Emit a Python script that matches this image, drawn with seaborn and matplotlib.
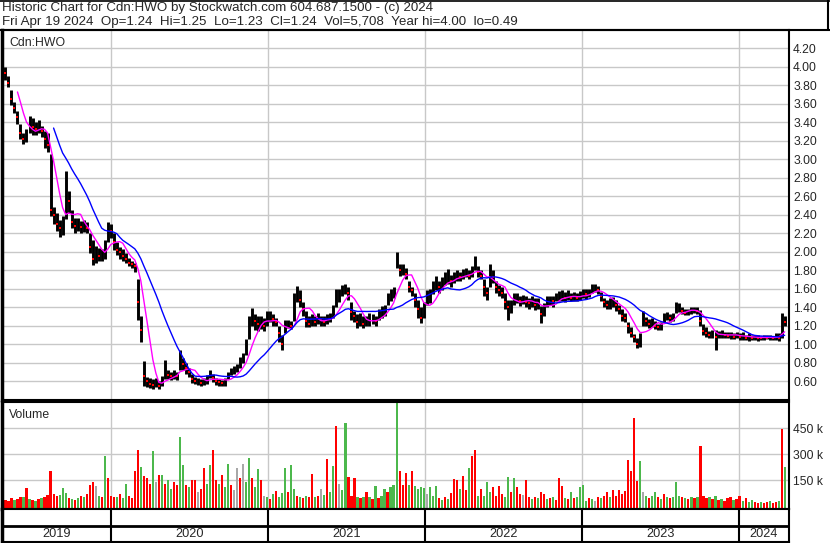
import numpy as np
import pandas as pd
import matplotlib
matplotlib.use('Agg')
import matplotlib.pyplot as plt
import matplotlib.lines as mlines
import seaborn as sns

sns.set_style("white")
plt.rcParams['font.family'] = ['Liberation Sans', 'DejaVu Sans']

# weekly bars, Cdn:HWO, Apr 2019 - Apr 2024
first_week = '2019-04-26'

close = [
    3.95, 3.93, 3.82, 3.65, 3.55, 3.45, 3.28, 3.22, 3.25, 3.38,
    3.35, 3.32, 3.36, 3.30, 3.22, 3.15, 2.45, 2.40, 2.30, 2.25,
    2.30, 2.70, 2.55, 2.32, 2.28, 2.30, 2.26, 2.28, 2.25, 2.05,
    1.92, 2.00, 1.95, 1.98, 2.05, 2.25, 2.22, 2.10, 2.02, 2.00,
    1.95, 1.92, 1.88, 1.86, 1.84, 1.45, 1.15, 0.65, 0.60, 0.57,
    0.56, 0.58, 0.55, 0.60, 0.72, 0.66, 0.65, 0.67, 0.65, 0.85,
    0.78, 0.74, 0.70, 0.62, 0.60, 0.60, 0.58, 0.60, 0.62, 0.68,
    0.63, 0.60, 0.59, 0.58, 0.60, 0.66, 0.70, 0.72, 0.74, 0.80,
    0.86, 0.98, 1.22, 1.30, 1.25, 1.22, 1.24, 1.20, 1.28, 1.30,
    1.27, 1.24, 1.12, 1.00, 1.20, 1.22, 1.20, 1.45, 1.55, 1.48,
    1.38, 1.25, 1.22, 1.26, 1.24, 1.28, 1.26, 1.24, 1.28, 1.30,
    1.34, 1.50, 1.55, 1.58, 1.60, 1.55, 1.35, 1.30, 1.24, 1.26,
    1.22, 1.24, 1.26, 1.28, 1.25, 1.32, 1.35, 1.38, 1.48, 1.55,
    1.58, 1.90, 1.80, 1.82, 1.76, 1.62, 1.58, 1.48, 1.38, 1.28,
    1.35, 1.50, 1.52, 1.60, 1.65, 1.62, 1.66, 1.70, 1.72, 1.68,
    1.72, 1.75, 1.72, 1.76, 1.78, 1.74, 1.78, 1.88, 1.78, 1.74,
    1.62, 1.55, 1.78, 1.72, 1.62, 1.58, 1.55, 1.45, 1.40, 1.42,
    1.48, 1.50, 1.46, 1.48, 1.45, 1.44, 1.46, 1.42, 1.44, 1.32,
    1.38, 1.45, 1.48, 1.46, 1.50, 1.52, 1.52, 1.50, 1.53, 1.50,
    1.52, 1.50, 1.52, 1.55, 1.54, 1.56, 1.60, 1.62, 1.58, 1.52,
    1.45, 1.42, 1.45, 1.48, 1.42, 1.38, 1.30, 1.28, 1.20, 1.12,
    1.08, 1.00, 1.06, 1.30, 1.25, 1.22, 1.24, 1.20, 1.18, 1.20,
    1.28, 1.30, 1.28, 1.30, 1.38, 1.40, 1.36, 1.34, 1.35, 1.36,
    1.38, 1.36, 1.25, 1.14, 1.12, 1.10, 1.10, 1.08, 1.10, 1.12,
    1.10, 1.09, 1.10, 1.08, 1.10, 1.08, 1.08, 1.07, 1.08, 1.06,
    1.08, 1.07, 1.06, 1.08, 1.07, 1.08, 1.06, 1.08, 1.07, 1.26,
    1.24,
]

high = [
    4.02, 4.00, 3.90, 3.75, 3.62, 3.52, 3.38, 3.28, 3.32, 3.46,
    3.44, 3.40, 3.42, 3.36, 3.30, 3.28, 3.05, 2.48, 2.42, 2.34,
    2.38, 2.87, 2.65, 2.45, 2.36, 2.36, 2.33, 2.34, 2.32, 2.20,
    2.12, 2.06, 2.04, 2.03, 2.12, 2.32, 2.30, 2.20, 2.10, 2.05,
    2.03, 1.98, 1.93, 1.90, 1.88, 1.70, 1.30, 0.82, 0.64, 0.63,
    0.62, 0.63, 0.60, 0.65, 0.83, 0.72, 0.70, 0.72, 0.70, 0.94,
    0.85, 0.80, 0.74, 0.68, 0.64, 0.63, 0.62, 0.63, 0.66, 0.72,
    0.68, 0.63, 0.62, 0.61, 0.63, 0.70, 0.74, 0.76, 0.78, 0.86,
    0.90, 1.05, 1.30, 1.39, 1.32, 1.30, 1.30, 1.28, 1.36, 1.36,
    1.32, 1.28, 1.20, 1.10, 1.26, 1.26, 1.25, 1.55, 1.63, 1.58,
    1.45, 1.36, 1.30, 1.32, 1.30, 1.34, 1.30, 1.30, 1.32, 1.34,
    1.42, 1.59, 1.60, 1.64, 1.65, 1.62, 1.45, 1.36, 1.32, 1.34,
    1.30, 1.30, 1.34, 1.32, 1.30, 1.38, 1.41, 1.42, 1.55, 1.59,
    1.62, 2.00, 1.86, 1.86, 1.82, 1.68, 1.62, 1.55, 1.48, 1.40,
    1.45, 1.58, 1.59, 1.68, 1.73, 1.68, 1.72, 1.78, 1.81, 1.75,
    1.78, 1.80, 1.78, 1.81, 1.82, 1.80, 1.84, 1.95, 1.84, 1.80,
    1.70, 1.62, 1.86, 1.80, 1.68, 1.64, 1.62, 1.55, 1.48, 1.48,
    1.55, 1.55, 1.52, 1.53, 1.52, 1.50, 1.52, 1.50, 1.50, 1.41,
    1.44, 1.52, 1.52, 1.52, 1.55, 1.57, 1.58, 1.56, 1.58, 1.55,
    1.56, 1.55, 1.57, 1.60, 1.60, 1.60, 1.65, 1.65, 1.63, 1.56,
    1.50, 1.48, 1.50, 1.51, 1.48, 1.42, 1.38, 1.34, 1.24, 1.18,
    1.11, 1.06, 1.12, 1.36, 1.29, 1.27, 1.28, 1.25, 1.22, 1.24,
    1.33, 1.35, 1.32, 1.34, 1.45, 1.44, 1.40, 1.38, 1.38, 1.40,
    1.40, 1.40, 1.37, 1.22, 1.18, 1.14, 1.15, 1.15, 1.14, 1.15,
    1.13, 1.13, 1.13, 1.12, 1.13, 1.12, 1.13, 1.10, 1.12, 1.10,
    1.10, 1.10, 1.09, 1.10, 1.10, 1.10, 1.09, 1.12, 1.12, 1.33,
    1.30,
]

low = [
    3.88, 3.85, 3.78, 3.58, 3.50, 3.38, 3.22, 3.16, 3.18, 3.28,
    3.26, 3.26, 3.28, 3.24, 3.12, 3.08, 2.38, 2.30, 2.22, 2.16,
    2.18, 2.35, 2.42, 2.25, 2.20, 2.22, 2.20, 2.21, 2.20, 1.98,
    1.85, 1.88, 1.90, 1.90, 1.92, 2.10, 2.15, 2.02, 1.96, 1.92,
    1.90, 1.88, 1.84, 1.82, 1.78, 1.26, 1.02, 0.55, 0.53, 0.52,
    0.51, 0.53, 0.51, 0.55, 0.62, 0.62, 0.61, 0.62, 0.61, 0.72,
    0.72, 0.68, 0.64, 0.58, 0.57, 0.56, 0.55, 0.56, 0.57, 0.63,
    0.59, 0.56, 0.55, 0.55, 0.55, 0.62, 0.66, 0.68, 0.70, 0.74,
    0.80, 0.88, 1.05, 1.20, 1.15, 1.14, 1.16, 1.14, 1.20, 1.24,
    1.20, 1.20, 1.02, 0.93, 1.12, 1.17, 1.16, 1.25, 1.45, 1.40,
    1.30, 1.18, 1.18, 1.20, 1.19, 1.22, 1.20, 1.19, 1.22, 1.24,
    1.28, 1.40, 1.45, 1.52, 1.54, 1.48, 1.26, 1.24, 1.17, 1.20,
    1.17, 1.19, 1.20, 1.22, 1.20, 1.26, 1.28, 1.30, 1.42, 1.47,
    1.50, 1.82, 1.74, 1.75, 1.70, 1.56, 1.52, 1.40, 1.28, 1.23,
    1.28, 1.42, 1.44, 1.54, 1.58, 1.55, 1.58, 1.64, 1.65, 1.62,
    1.66, 1.68, 1.68, 1.70, 1.72, 1.70, 1.72, 1.80, 1.72, 1.70,
    1.52, 1.48, 1.62, 1.66, 1.55, 1.52, 1.50, 1.38, 1.26, 1.34,
    1.42, 1.44, 1.41, 1.43, 1.40, 1.38, 1.40, 1.37, 1.38, 1.23,
    1.30, 1.40, 1.42, 1.40, 1.46, 1.47, 1.47, 1.45, 1.48, 1.46,
    1.47, 1.46, 1.48, 1.50, 1.49, 1.51, 1.55, 1.56, 1.54, 1.46,
    1.40, 1.38, 1.38, 1.40, 1.36, 1.32, 1.25, 1.24, 1.12, 1.08,
    1.02, 0.96, 0.97, 1.20, 1.20, 1.17, 1.18, 1.16, 1.15, 1.15,
    1.24, 1.26, 1.24, 1.25, 1.34, 1.35, 1.32, 1.31, 1.31, 1.32,
    1.34, 1.32, 1.19, 1.10, 1.08, 1.06, 1.06, 0.94, 1.06, 1.07,
    1.06, 1.06, 1.05, 1.05, 1.06, 1.04, 1.04, 1.04, 1.03, 1.04,
    1.04, 1.03, 1.04, 1.04, 1.05, 1.04, 1.04, 1.04, 1.03, 1.06,
    1.20,
]

# biggest daily volume in each week, thousands of shares
volume_k = [
    40, 35, 30, 45, 35, 40, 55, 50, 105, 40,
    35, 30, 40, 45, 50, 65, 200, 70, 60, 65,
    105, 75, 45, 40, 35, 45, 60, 55, 70, 120,
    140, 115, 60, 50, 290, 160, 60, 55, 50, 70,
    45, 125, 60, 45, 205, 325, 225, 175, 160, 130,
    315, 140, 180, 180, 130, 150, 100, 140, 120, 400,
    235, 120, 110, 150, 150, 80, 100, 220, 130, 235,
    325, 150, 130, 180, 110, 240, 120, 90, 220, 160,
    240, 140, 275, 160, 110, 215, 150, 60, 55, 40,
    70, 85, 55, 75, 220, 80, 235, 100, 60, 50,
    45, 60, 50, 185, 50, 60, 100, 65, 270, 80,
    230, 460, 130, 90, 480, 165, 60, 160, 50, 45,
    55, 80, 50, 40, 115, 45, 60, 100, 80, 110,
    120, 600, 200, 120, 190, 120, 200, 115, 100, 110,
    105, 70, 110, 60, 115, 45, 35, 55, 40, 75,
    155, 150, 100, 175, 90, 220, 290, 325, 60, 100,
    60, 140, 80, 110, 60, 115, 70, 50, 165, 80,
    160, 110, 70, 65, 150, 55, 40, 50, 45, 80,
    70, 40, 45, 50, 35, 160, 115, 45, 40, 80,
    45, 50, 110, 120, 30, 45, 40, 30, 50, 45,
    60, 80, 50, 95, 60, 90, 70, 85, 265, 200,
    505, 145, 260, 80, 60, 45, 60, 80, 55, 40,
    70, 50, 45, 55, 140, 60, 50, 45, 40, 55,
    45, 50, 345, 60, 45, 55, 40, 60, 35, 40,
    30, 45, 55, 35, 40, 60, 30, 45, 25, 35,
    25, 20, 25, 20, 25, 30, 20, 25, 30, 445,
    225,
]

# g = up, r = down, n = unchanged (one row of ten weeks per string)
volume_dir_rows = [
    "grrrgrrgrg", "rgrgrrrrrg", "ggrgrgrgrr", "rngrgrrrgr",
    "ggrrrrgrrr", "gnrgrggrrg", "grgrrnrrgg", "rrgrggrnnr",
    "nggrggrngr", "grgggrggrg", "rgrrgrngrg", "grnggrrrgr",
    "grgrgrggrg", "ggrrrgrggg", "gngggrgrgr", "rrgrrgrrgr",
    "gggrrrrggr", "grrnrrgrgr", "rgrgrrrgrg", "rggggrgnrg",
    "rrgrrrrrrr", "rrgngrggrg", "rgrgggrgrg", "rgrrrgrgrg",
    "rrrgrrgrgg", "rrgrrgrrgr", "g",
]
volume_dir = list("".join(volume_dir_rows))

years = ['2019', '2020', '2021', '2022', '2023', '2024']
price_ticks = [0.60, 0.80, 1.00, 1.20, 1.40, 1.60, 1.80, 2.00, 2.20, 2.40,
               2.60, 2.80, 3.00, 3.20, 3.40, 3.60, 3.80, 4.00, 4.20]
volume_ticks = [150, 300, 450]

title_1 = "Historic Chart for Cdn:HWO by Stockwatch.com 604.687.1500 - (c) 2024"
title_2 = ("Fri Apr 19 2024  Op=1.24  Hi=1.25  Lo=1.23  Cl=1.24  "
           "Vol=5,708  Year hi=4.00  lo=0.49")

# ---------------------------------------------------------------
df = pd.DataFrame({'close': close, 'high': high, 'low': low,
                   'vol': volume_k, 'dir': volume_dir})
df['date'] = pd.date_range(first_week, periods=len(df), freq='7D') - pd.Timedelta(days=2)
df['ma_fast'] = df['close'].rolling(6).mean()
df['ma_slow'] = df['close'].rolling(18).mean()
down = df['close'] < df['close'].shift(1)

W, H = 830, 543
def box(x0, y0, x1, y1):
    return [x0 / W, 1 - y1 / H, (x1 - x0) / W, (y1 - y0) / H]

fig = plt.figure(figsize=(W / 100, H / 100), dpi=100)
ax_p = fig.add_axes(box(2, 30, 789, 399.5))
ax_v = fig.add_axes(box(2, 401.5, 789, 509))
ax_y = fig.add_axes(box(2, 509, 789, 542))

xlim = (pd.Timestamp('2019-04-23'), pd.Timestamp('2024-04-27'))
year_starts = [pd.Timestamp(f'{y}-01-01') for y in years[1:]]
grid_c = '#c8c8c8'

for ax in (ax_p, ax_v, ax_y):
    ax.set_xlim(*xlim)
    ax.set_xticks(year_starts)
    ax.set_xticklabels([])
    ax.tick_params(axis='x', length=0)
    for s in ax.spines.values():
        s.set_color('black')
        s.set_linewidth(1.5)
    ax.spines['left'].set_linewidth(2.5)

# price panel
ax_p.vlines(df['date'], df['low'], df['high'], color='black', lw=2.1, zorder=2)
ax_p.scatter(df.loc[down, 'date'], df.loc[down, 'close'], marker='s', s=3,
             color='red', linewidths=0, zorder=3)
sns.lineplot(data=df, x='date', y='ma_fast', ax=ax_p, color='#ff00ff', lw=1, zorder=4)
sns.lineplot(data=df, x='date', y='ma_slow', ax=ax_p, color='#0000ff', lw=1, zorder=4)
ax_p.set_xlim(*xlim)
ax_p.set_ylim(0.400, 4.395)
ax_p.set_yticks(price_ticks)
ax_p.set_yticklabels([f'{t:.2f}' for t in price_ticks])
ax_p.yaxis.tick_right()
ax_p.tick_params(axis='y', length=0, pad=3, labelsize=8.7)
ax_p.grid(True, color=grid_c, lw=1)
ax_p.set_axisbelow(True)
ax_p.set_xlabel('')
ax_p.set_ylabel('')
ax_p.text(7 / 787, 1 - 16 / 369.5, 'Cdn:HWO', transform=ax_p.transAxes,
          fontsize=8.8, va='baseline', ha='left')

# volume panel
vfloor = -17
colmap = {'g': '#4cb84c', 'r': '#ff0000', 'n': '#a8a8a8'}
ax_v.bar(df['date'], df['vol'] - vfloor, bottom=vfloor, width=5,
         color=[colmap[c] for c in df['dir']], linewidth=0, zorder=2)
ax_v.set_xlim(*xlim)
ax_v.set_ylim(vfloor, 603)
ax_v.set_yticks(volume_ticks)
ax_v.set_yticklabels([f'{t} k' for t in volume_ticks])
ax_v.yaxis.tick_right()
ax_v.tick_params(axis='y', length=0, pad=3, labelsize=8.7)
ax_v.grid(True, color=grid_c, lw=1)
ax_v.set_axisbelow(True)
ax_v.text(7 / 787, 1 - 16 / 107.5, 'Volume', transform=ax_v.transAxes,
          fontsize=8.8, va='baseline', ha='left')

# year strip
ax_y.set_ylim(0, 1)
ax_y.set_yticks([])
ax_y.axhline(0.5, color='black', lw=2)
ax_y.vlines(year_starts, 0, 1, color='black', lw=1.5)
edges = [xlim[0]] + year_starts + [xlim[1]]
for i, y in enumerate(years):
    mid = edges[i] + (edges[i + 1] - edges[i]) / 2
    ax_y.text(mid, 0.24, y, ha='center', va='center', fontsize=9.2)

# header box
fig.add_artist(mlines.Line2D([0, 1], [1 - 30 / H, 1 - 30 / H], color='black', lw=1.5))
fig.add_artist(mlines.Line2D([0, 1], [1 - 0.6 / H, 1 - 0.6 / H], color='black', lw=1.2))
fig.add_artist(mlines.Line2D([1 - 1.6 / W, 1 - 1.6 / W], [1, 1 - 30 / H], color='black', lw=1.5))
fig.text(2 / W, 1 - 11.5 / H, title_1, fontsize=9.6, va='baseline', ha='left')
fig.text(2 / W, 1 - 25 / H, title_2, fontsize=9.6, va='baseline', ha='left')

fig.savefig('out.png', dpi=100)
